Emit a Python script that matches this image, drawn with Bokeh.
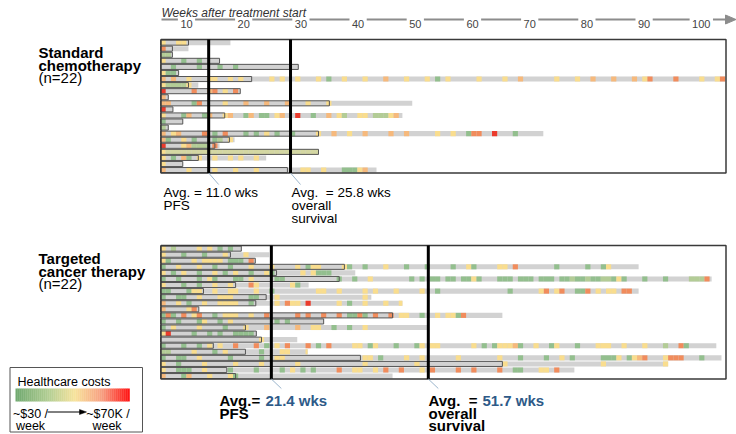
from bokeh.plotting import figure
from bokeh.models import Range1d
from bokeh.core.properties import value
from bokeh.embed import file_html
from bokeh.resources import INLINE

# ------------------------------------------------------------------ data
week_ticks = [10, 20, 30, 40, 50, 60, 70, 80, 90, 100]
axis_title = "Weeks after treatment start"

group_title = [["Standard", "chemotherapy"], ["Targeted", "cancer therapy"]]
group_n = [22, 22]

# total follow-up (weeks) and progression-free survival (weeks), one per patient
std_total = [13.5, 5.4, 2.3, 11.4, 26.6, 3.5, 109.1, 7.3, 15.4, 1.5, 48.6,
             2.4, 46.7, 4.3, 1.5, 73.9, 14.3, 11.4, 30.5, 20.4, 4.3, 41.7]
std_pfs = [5.4, 2.3, 2.3, 11.4, 26.6, 3.5, 17.6, 5.4, 15.4, 1.5, 32.6,
           2.4, 12.4, 4.3, 1.5, 30.5, 13.3, 10.5, 30.5, 7.3, 4.3, 24.5]
# weekly cost cells: "<week><level>"  (G green .. R red, k khaki), "a-b" = range
std_cells = [
    "0y 3y 4y",
    "0O",
    "0g 1g",
    "0y 4G 7G",
    "2G 7G 11G 14G",
    "0y 1G 2G",
    "0o 2o 5y 9y 10y 13y 15y 21y 23y 26y 30y 32G 35y 39y 43o 47y 51y 53G 55y "
    "61y 66y 69o 76y 80y 83o 87o 91o 93y 94O 99O 104y 107y 108O",
    "0y 1g 2g 3g 4g 5y",
    "0R 6O 9o 10O 12y 14O",
    "0o",
    "0o 1o 6G 7O 12y 16o 20o 24o 28y 32y",
    "0R",
    "0y 4G 5o 8G 9o 12y 13o 16G 17o 19G 20G 22y 23o 26R 29G 32o 34y 35g 38y "
    "39y 41g 42g 43g 44y 45o",
    "0G",
    "0g",
    "0o 2y 3o 8O 10G 12O 16G 18G 20y 22G 25G 30y 33o 36y 39o 44o 47o 53y 56y "
    "59G 60O 61O 64R 68G",
    "0o 1G 4y 6G 10G 11g 13y",
    "0R 4y 5o 6g 7g 8g 10O",
    "0y 1-30k",
    "0y 2G 4o 5G 7y 10y 13y 15y 18y",
    "0y",
    "0o 5y 10y 14y 18y 27y 28y 31y 35G 36G 37G 38y 39o",
]

tgt_total = [15.6, 21.0, 18.3, 92.3, 37.6, 106.4, 28.6, 92.3, 40.7, 46.7, 7.4,
             66.0, 31.5, 51.5, 18.5, 26.4, 107.3, 28.4, 108.3, 98.0, 79.9, 44.8]
tgt_pfs = [15.6, 13.5, 18.3, 35.5, 22.4, 34.5, 14.5, 8.3, 20.4, 18.4, 7.4,
           44.8, 31.5, 16.4, 18.5, 19.5, 10.2, 16.4, 38.6, 66.0, 12.8, 14.5]
tgt_cells = [
    "0y 2g 7y 9y 11G 13G",
    "0y 4G 8G 12y 16y",
    "0y 1G 6y 8y 9y 10y 11y 13G 14G 15G 17O",
    "0G 3y 7y 10G 13G 17y 21y 26y 28G 29y 30y 35y 36G 39G 43y 47G 51G 56G 59y "
    "60G 65y 66y 68O 76G 82G 85G 86y",
    "0y 2G 4y 7G 10y 12G 14y 17G 20y 21G 27y 29y 30G 31G 32G",
    "0G 3G 7G 9y 10G 14G 15G 17y 22G 23G 34G 37G 40y 48G 50G 52G 53G 55G 56G "
    "58G 59G 60y 61G 65G 66G 67G 69G 70G 71G 73G 74G 75G 77G 78G 79g 80G 81G "
    "82g 83G 84G 85g 86g 87G 88y 89G 93G 97G 102g 103g 104g 105O",
    "0y 4G 7G 10y 13y 17O 18y 25y 26G",
    "0G 1G 5G 6y 7y 10y 13y 14y 18y 21G 30y 31y 34y 39y 41y 45y 50y 53G 67G "
    "73y 74O 76y 77O 80G 81G 82O 84y 86y 87y 89O 90O",
    "0G 3G 4G 7y 11y 12y 13y 17G 18G 22y 39y",
    "0o 3y 5G 8y 11y 12y 13y 14y 17G 22y 24O 25y 26y 28R 34y 36G 39y 43y 46y",
    "0o 5y 6O",
    "0G 1O 2G 4O 6y 7O 10G 12y 13y 14y 17y 20O 26O 28O 31O 34O 36G 37G 38O 39G "
    "41O 44O 46y 47y 50G 53y 55y 56y 57G 58O",
    "0G 3G 7G 8y 11G 13y 22G 24G",
    "0G 2y 7y 12G 16y 20o 26o 29y 30y 33G 36G 39y",
    "0y 1R 6G 9G 11G 14G 15G 16G 17G",
    "19y",
    "0G 4G 7G 9y 11y 14O 18O 20G 22y 24O 28O 30G 32O 37y 38y 40G 41y 45G 49G "
    "50y 52y 53y 60y 62G 64G 65y 66y 67y 68o 69G 72y 75G 76y 80G 84y 85y 86y "
    "89y 93y 97g 100O 101G",
    "0g 1g 6y 10G 12y 19G 23y 24y 28y",
    "0G 3G 4G 7y 13G 19G 22y 23y 39y 40y 42G 47y 50y 57y 65y 69G 74G 77y 79G "
    "85G 86G 87G 88y 90G 91y 92o 93O 97y 98O 99O 100O 104G",
    "0y 3G 8y 14y 19y 26y 39y 49y 66y 85y 97y",
    "0y 3G 4G 5G 8y 13G 18G 23G 25y 27G 29G 34O 37y 38y 41y 43O 46O 50y 52O "
    "57O 60O 65O 68G 69G 73y 74y 76O",
    "0o 4G 5o 9y 13y 14G",
]

avg_pfs = [11.0, 21.4]          # labelled averages (weeks)
avg_os = [25.8, 51.7]
marker_pfs = [9.3, 21.4]        # where the average markers are drawn (weeks)
marker_os = [25.1, 51.7]

legend_title = "Healthcare costs"
legend_low = ["~$30 /", "week"]
legend_high = ["~$70K /", "week"]

# ------------------------------------------------------------------ style / layout
FONT = value("Liberation Sans")
GRAY = "#d2d2d2"
LEVEL_COLOR = {"G": "#93bf8e", "g": "#b3cc96", "k": "#d4d7a2", "y": "#f9dd8e",
               "o": "#f6b97c", "O": "#f18c5c", "R": "#eb3b2c"}
BLUE = "#2e5a88"

W, H = 736, 434
X0, SX = 160.0, 5.18        # page px of week 0 on the bar scale, px per week
AX0, AXS = 128.8, 5.72      # page px of week 0 on the drawn time axis, px per week


def fx(px):   # page x -> bar-scale weeks
    return (px - X0) / SX


def ax(px):   # page x -> axis-scale weeks
    return (px - AX0) / AXS


def fy(py):   # page y -> layout y (range inverted)
    return py


BOX_R = fx(725.5)

p = figure(width=W, height=H, x_range=Range1d(fx(0), fx(W)),
           y_range=Range1d(fy(H), fy(0)), output_backend="svg",
           toolbar_location=None, x_axis_location=None, y_axis_location=None,
           min_border=0, outline_line_color=None, background_fill_color="white",
           border_fill_color="white")
p.grid.grid_line_color = None
p.extra_x_ranges = {"axis": Range1d(ax(0), ax(W))}


def txt(x, y, s, size, color="#000000", style="normal", align="left", rng="default"):
    p.text(x=[x], y=[y], text=[s], text_font=FONT, text_font_size=size,
           text_font_style=style, text_color=color, text_align=align,
           text_baseline="alphabetic", x_range_name=rng)


# ---------------- top time axis
AXIS_Y = fy(19)
txt(ax(161), fy(12), axis_title, "12px", "#333333", "italic", rng="axis")
seg_x0, seg_x1 = [], []
cur = ax(161)
for t in week_ticks:
    half = (len(str(t)) * 0.556 * 11 / 2 + 2.5) / AXS
    seg_x0.append(cur)
    seg_x1.append(t - half)
    cur = t + half
    txt(t, fy(23), str(t), "11px", "#444444", align="center", rng="axis")
seg_x0.append(cur)
seg_x1.append(ax(726))
p.segment(x0=seg_x0, x1=seg_x1, y0=[AXIS_Y] * len(seg_x0), y1=[AXIS_Y] * len(seg_x0),
          line_color="#8c8c8c", line_width=2, x_range_name="axis")
p.patch(x=[ax(725), ax(735.5), ax(725)], y=[fy(14.5), fy(19), fy(23.5)],
        fill_color="#8c8c8c", line_color="#8c8c8c", x_range_name="axis")


# ---------------- panels
def parse_cells(spec):
    out = []
    for tok in spec.split():
        lvl, num = tok[-1], tok[:-1]
        if "-" in num:
            a, b = num.split("-")
            out += [(w, lvl) for w in range(int(a), int(b) + 1)]
        else:
            out.append((int(num), lvl))
    return out


panels = [
    dict(top=39.0, bottom=172.5, total=std_total, pfs=std_pfs, cells=std_cells,
         k=0, title_y=52.0),
    dict(top=245.0, bottom=378.5, total=tgt_total, pfs=tgt_pfs, cells=tgt_cells,
         k=1, title_y=258.0),
]

for pan in panels:
    n = len(pan["total"])
    rh = (pan["bottom"] - pan["top"]) / n
    tops = [fy(pan["top"] + i * rh + 0.6) for i in range(n)]
    bots = [fy(pan["top"] + (i + 1) * rh - 0.4) for i in range(n)]
    totals = [min(t, BOX_R) for t in pan["total"]]
    # grey follow-up bars
    p.quad(left=[0] * n, right=totals, top=tops, bottom=bots,
           fill_color=GRAY, line_color=None)
    # coloured weekly cost cells
    cl, cr, ct, cb, cc = [], [], [], [], []
    for i, spec in enumerate(pan["cells"]):
        for w, lvl in parse_cells(spec):
            if w >= totals[i]:
                continue
            cl.append(w)
            cr.append(min(w + 1, totals[i]))
            ct.append(tops[i])
            cb.append(bots[i])
            cc.append(LEVEL_COLOR[lvl])
    p.quad(left=cl, right=cr, top=ct, bottom=cb, fill_color=cc, line_color=None)
    # PFS outline
    p.quad(left=[0] * n, right=pan["pfs"], top=tops, bottom=bots,
           fill_color=None, line_color="#555555", line_width=1)
    # panel frame
    p.quad(left=[fx(160.5)], right=[BOX_R], top=[fy(pan["top"])],
           bottom=[fy(pan["bottom"])], fill_color=None, line_color="#3a3a3a",
           line_width=1.5)
    # average markers
    k = pan["k"]
    xs = [marker_pfs[k], marker_os[k]]
    p.segment(x0=xs, x1=xs, y0=[fy(pan["top"])] * 2, y1=[fy(pan["bottom"])] * 2,
              line_color="#000000", line_width=3)
    lead = 11.5 if k == 0 else 9.5
    p.segment(x0=xs, x1=[x + 10 / SX for x in xs], y0=[fy(pan["bottom"])] * 2,
              y1=[fy(pan["bottom"] + lead)] * 2, line_color="#9bb5cc", line_width=1)
    # group title
    ty = pan["title_y"]
    txt(fx(38), fy(ty), group_title[k][0], "15px", style="bold")
    txt(fx(38), fy(ty + 12.5), group_title[k][1], "15px", style="bold")
    txt(fx(38), fy(ty + 25), f"(n={group_n[k]})", "15px")

# annotations, standard chemotherapy
txt(fx(163), fy(192), f"Avg. = {avg_pfs[0]:.1f} wks", "13.5px")
txt(fx(163), fy(205), "PFS", "13.5px")
txt(fx(291), fy(192), f"Avg.\u00a0 = {avg_os[0]:.1f} wks", "13.5px")
txt(fx(291), fy(205), "overall", "13.5px")
txt(fx(291), fy(218), "survival", "13.5px")

# annotations, targeted therapy
txt(fx(219), fy(400), "Avg.=", "15px", style="bold")
txt(fx(265), fy(400), f"{avg_pfs[1]:.1f} wks", "15px", BLUE, "bold")
txt(fx(219), fy(412.5), "PFS", "15px", style="bold")
txt(fx(428), fy(400), "Avg.\u00a0 =", "15px", style="bold")
txt(fx(482), fy(400), f"{avg_os[1]:.1f} wks", "15px", BLUE, "bold")
txt(fx(428), fy(412.5), "overall", "15px", style="bold")
txt(fx(428), fy(425), "survival", "15px", style="bold")

# ---------------- legend
p.quad(left=[fx(9.5)], right=[fx(142)], top=[fy(367)], bottom=[fy(431.5)],
       fill_color="white", line_color="#555555", line_width=1)
txt(fx(17), fy(381), legend_title, "12.5px")
stops = [(0.0, (0x6f, 0xa8, 0x6f)), (0.3, (0xb5, 0xcf, 0x94)), (0.52, (0xf7, 0xe3, 0x9c)),
         (0.76, (0xf7, 0x9e, 0x80)), (1.0, (0xff, 0x10, 0x10))]


def grad(t):
    for (t0, c0), (t1, c1) in zip(stops[:-1], stops[1:]):
        if t <= t1:
            u = (t - t0) / (t1 - t0)
            return "#%02x%02x%02x" % tuple(int(round(a + (b - a) * u)) for a, b in zip(c0, c1))
    return "#ff1010"


NG = 57
g0, g1 = 15.0, 129.0
gw = (g1 - g0) / NG
p.quad(left=[fx(g0 + i * gw) for i in range(NG)],
       right=[fx(g0 + (i + 1) * gw + 0.3) for i in range(NG)],
       top=[fy(388)] * NG, bottom=[fy(401)] * NG,
       fill_color=[grad((i + 0.5) / NG) for i in range(NG)], line_color=None)
txt(fx(30), fy(413), legend_low[0], "12.5px", align="center")
txt(fx(30), fy(425), legend_low[1], "12.5px", align="center")
txt(fx(107.5), fy(413), legend_high[0], "12.5px", align="center")
txt(fx(106.5), fy(425), legend_high[1], "12.5px", align="center")
p.segment(x0=[fx(47)], x1=[fx(80)], y0=[fy(411.5)], y1=[fy(411.5)],
          line_color="#000000", line_width=1)
p.patch(x=[fx(79), fx(86), fx(79)], y=[fy(409), fy(411.5), fy(414)],
        fill_color="#000000", line_color="#000000", line_width=0.5)

open("out.html", "w").write(file_html(p, INLINE))
